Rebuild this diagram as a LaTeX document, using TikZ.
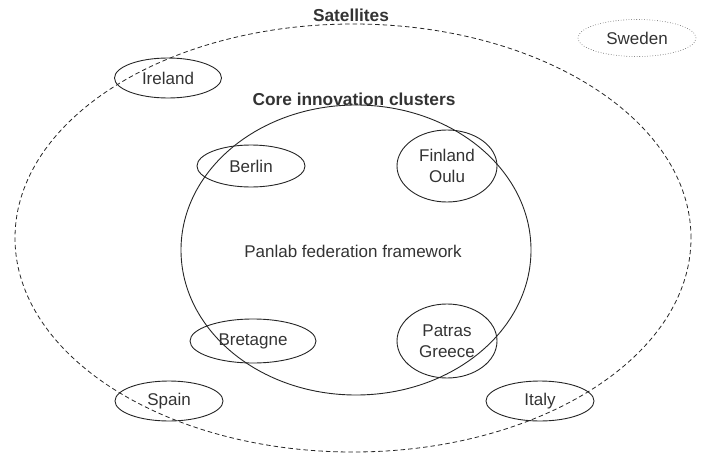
\documentclass[tikz,border=0pt]{standalone}
\usepackage{fontspec}
\setmainfont{Liberation Sans}
\usetikzlibrary{shapes.geometric}
\begin{document}
\begin{tikzpicture}[x=1pt,y=-1pt,
  region/.style={ellipse,draw=black!85,line width=0.9pt,inner sep=0pt,
    text=black!80,font=\fontsize{17}{21}\selectfont,align=center},
  outerring/.style={ellipse,draw=black!85,line width=0.8pt,dash pattern=on 4.5pt off 3pt,inner sep=0pt},
  innerring/.style={ellipse,draw=black!85,line width=0.9pt,inner sep=0pt},
  heading/.style={font=\bfseries\fontsize{17.3}{20}\selectfont,text=black!80,inner sep=0pt}]
\useasboundingbox (0,0) rectangle (702,455);
% satellite ring and core cluster
\node[outerring,minimum width=676pt,minimum height=428pt] (sat) at (353,238) {};
\node[innerring,minimum width=350pt,minimum height=290pt] (core) at (356,250) {};
\node[heading] (satlabel) at (351,15) {Satellites};
\node[heading] (corelabel) at (354,99) {Core innovation clusters};
\node[font=\fontsize{17}{21}\selectfont,text=black!80] (panlab) at (353,251) {Panlab federation framework};
% sites
\node[region,draw=black!70,line width=0.6pt,dotted,minimum width=118pt,minimum height=37pt] (sweden) at (637,38) {Sweden};
\node[region,minimum width=107pt,minimum height=40pt] (ireland) at (168,78) {Ireland};
\node[region,minimum width=108pt,minimum height=42pt] (berlin) at (251,166) {Berlin};
\node[region,minimum width=100pt,minimum height=72pt] (finland) at (447,166) {Finland\\Oulu};
\node[region,minimum width=126pt,minimum height=44pt] (bretagne) at (253,341) {Bretagne};
\node[region,minimum width=100pt,minimum height=74pt] (patras) at (447,341) {Patras\\Greece};
\node[region,minimum width=108pt,minimum height=40pt] (spain) at (169,401) {Spain};
\node[region,minimum width=108pt,minimum height=40pt] (italy) at (540,401) {Italy};
\end{tikzpicture}
\end{document}
